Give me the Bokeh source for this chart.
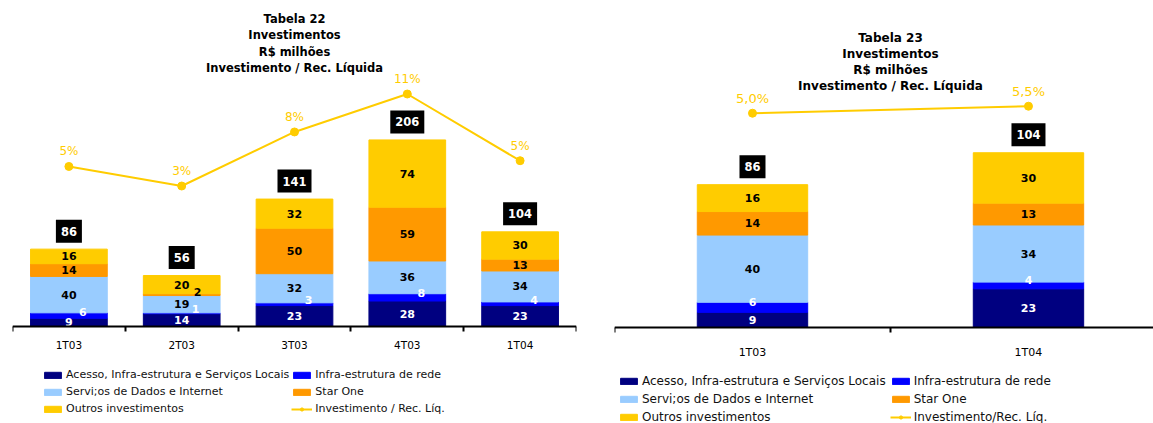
import numpy as np
from bokeh.plotting import figure
from bokeh.models import Range1d, FixedTicker, Legend, LegendItem, ColumnDataSource
from bokeh.layouts import row
from bokeh.embed import file_html
from bokeh.resources import INLINE
from bokeh.core.properties import value

# ---------------- data ----------------
series_names = ["Acesso, Infra-estrutura e Serviços Locais", "Infra-estrutura de rede",
                "Servi;os de Dados e Internet", "Star One", "Outros investimentos"]

# Tabela 22
quarters22 = ["1T03", "2T03", "3T03", "4T03", "1T04"]
acesso22 = [9, 14, 23, 28, 23]
infra22 = [6, 1, 3, 8, 4]
dados22 = [40, 19, 32, 36, 34]
starone22 = [14, 2, 50, 59, 13]
outros22 = [16, 20, 32, 74, 30]
totais22 = [86, 56, 141, 206, 104]
inv_rec22 = [4.7, 3.0, 7.7, 11.0, 5.2]
inv_rec22_labels = ["5%", "3%", "8%", "11%", "5%"]
line_name22 = "Investimento / Rec. Líq."
title22 = ["Tabela 22", "Investimentos", "R$ milhões", "Investimento / Rec. Líquida"]

# Tabela 23
quarters23 = ["1T03", "1T04"]
acesso23 = [9, 23]
infra23 = [6, 4]
dados23 = [40, 34]
starone23 = [14, 13]
outros23 = [16, 30]
totais23 = [86, 104]
inv_rec23 = [5.0, 5.5]
inv_rec23_labels = ["5,0%", "5,5%"]
line_name23 = "Investimento/Rec. Líq."
title23 = ["Tabela 23", "Investimentos", "R$ milhões", "Investimento / Rec. Líquida"]

# ---------------- style ----------------
COLORS = ["#000080", "#0000FF", "#99CCFF", "#FF9900", "#FFCC00"]
LABEL_COLORS = ["white", "white", "black", "black", "black"]
LINE_COLOR = "#FFCC00"
FONT = "DejaVu Sans"
KEYS = ["acesso", "infra", "dados", "star", "outros"]


def build(cats, series, totals, pct, pct_labels, line_name, title_lines, L):
    n = len(cats)
    xs = list(range(n))
    data = {"x": xs}
    for k, vals in zip(KEYS, series):
        data[k] = vals
    src = ColumnDataSource(data)

    p = figure(width=L["width"], height=L["height"],
               x_range=Range1d(-0.5, L["x_end"]), y_range=Range1d(L["y_start"], L["y_end"]),
               output_backend="svg", toolbar_location=None, y_axis_location=None,
               min_border_left=L["mbl"], min_border_right=L["mbr"],
               min_border_top=0, min_border_bottom=0,
               outline_line_color=None, background_fill_color="white")
    p.xgrid.visible = False
    p.ygrid.visible = False
    p.extra_y_ranges = {"pct": Range1d(L["pct_start"], L["pct_end"])}

    rs = p.vbar_stack(KEYS, x="x", width=L["bar_width"], color=COLORS, source=src)

    # segment labels
    arr = np.array(series, dtype=float)
    cum = np.cumsum(arr, axis=0)
    centers = cum - arr / 2.0
    for i in range(len(KEYS)):
        xo = []
        yo = []
        for j in range(n):
            dx, dy = 0, 0
            if i == 1:
                dx, dy = L["blue_dx"], L["blue_dy"]
            elif i == 3 and arr[i][j] < 5:
                dx, dy = 16, -3
            xo.append(dx)
            yo.append(dy)
        p.text(x=xs, y=list(centers[i]), text=[str(v) for v in series[i]],
               x_offset=xo, y_offset=yo,
               text_align="center", text_baseline="middle",
               text_color=LABEL_COLORS[i], text_font=value(FONT),
               text_font_style="bold", text_font_size="11px")

    # totals in black boxes
    p.text(x=xs, y=list(cum[-1]), text=[str(t) for t in totals], y_offset=-18,
           text_align="center", text_baseline="middle", text_color="white",
           text_font=value(FONT), text_font_style="bold", text_font_size="11.5px",
           background_fill_color="black",
           padding=dict(left=5, right=5, top=7, bottom=7))

    # percentage line
    lr = p.line(xs, pct, y_range_name="pct", line_color=LINE_COLOR, line_width=2)
    sr = p.scatter(xs, pct, y_range_name="pct", marker="circle", size=8,
                   fill_color=LINE_COLOR, line_color=LINE_COLOR)
    p.text(x=xs, y=pct, text=pct_labels, y_range_name="pct", y_offset=-15,
           text_align="center", text_baseline="middle", text_color=LINE_COLOR,
           text_font=value(FONT), text_font_size=L["pct_fs"])

    # title
    xm = float(np.mean(xs))
    p.text(x=[xm] * len(title_lines), y=[L["y_end"]] * len(title_lines), text=title_lines,
           y_offset=[L["title_y0"] + k * L["title_pitch"] for k in range(len(title_lines))],
           text_align="center", text_baseline="middle", text_color="black",
           text_font=value(FONT), text_font_style="bold", text_font_size=L["title_fs"])

    # category axis drawn at value 0
    ax = p.xaxis[0]
    ax.fixed_location = 0
    ax.ticker = FixedTicker(ticks=xs, minor_ticks=[x - 0.5 for x in range(n + 1)])
    ax.major_label_overrides = {i: c for i, c in enumerate(cats)}
    ax.major_tick_out = 0
    ax.major_tick_in = 0
    ax.minor_tick_out = 5
    ax.minor_tick_in = 0
    ax.minor_tick_line_color = "black"
    ax.minor_tick_line_width = 2
    ax.axis_line_color = "black"
    ax.axis_line_width = 2
    ax.major_label_standoff = L["standoff"]
    ax.major_label_text_font = FONT
    ax.major_label_text_font_size = L["tick_fs"]
    ax.major_label_text_color = "black"

    items = [
        LegendItem(label=series_names[0], renderers=[rs[0]]),
        LegendItem(label=series_names[1], renderers=[rs[1]]),
        LegendItem(label=series_names[2], renderers=[rs[2]]),
        LegendItem(label=series_names[3], renderers=[rs[3]]),
        LegendItem(label=series_names[4], renderers=[rs[4]]),
        LegendItem(label=line_name, renderers=[lr, sr]),
    ]
    leg = Legend(items=items, location=L["leg_loc"], orientation="horizontal", ncols=2,
                 margin=0, padding=0, spacing=L["leg_spacing"], label_height=L["leg_lh"],
                 glyph_height=8, glyph_width=21, label_standoff=3,
                 label_text_font=FONT, label_text_font_size=L["leg_fs"],
                 label_text_color="#111111", border_line_color=None,
                 background_fill_alpha=0)
    p.add_layout(leg)
    return p


L22 = dict(width=600, height=423, mbl=12, mbr=24, x_end=4.5,
           y_start=-106.6, y_end=358.2, pct_start=-17.65, pct_end=19.13, bar_width=0.68,
           blue_dx=14, blue_dy=-4, pct_fs="12px", title_fs="11.5px",
           title_y0=18, title_pitch=16.5, standoff=8, tick_fs="10.5px",
           leg_loc=(30, 7), leg_spacing=2, leg_lh=15, leg_fs="11px")
L23 = dict(width=553, height=423, mbl=14, mbr=0, x_end=1.453,
           y_start=-57.14, y_end=194.6, pct_start=-17.16, pct_end=13.05, bar_width=0.40,
           blue_dx=0, blue_dy=-5, pct_fs="13px", title_fs="12px",
           title_y0=37, title_pitch=16, standoff=14, tick_fs="11px",
           leg_loc=(4, -1), leg_spacing=4, leg_lh=14, leg_fs="12px")

p22 = build(quarters22, [acesso22, infra22, dados22, starone22, outros22], totais22,
            inv_rec22, inv_rec22_labels, line_name22, title22, L22)
p23 = build(quarters23, [acesso23, infra23, dados23, starone23, outros23], totais23,
            inv_rec23, inv_rec23_labels, line_name23, title23, L23)

layout = row(p22, p23)
open("out.html", "w").write(file_html(layout, INLINE))
